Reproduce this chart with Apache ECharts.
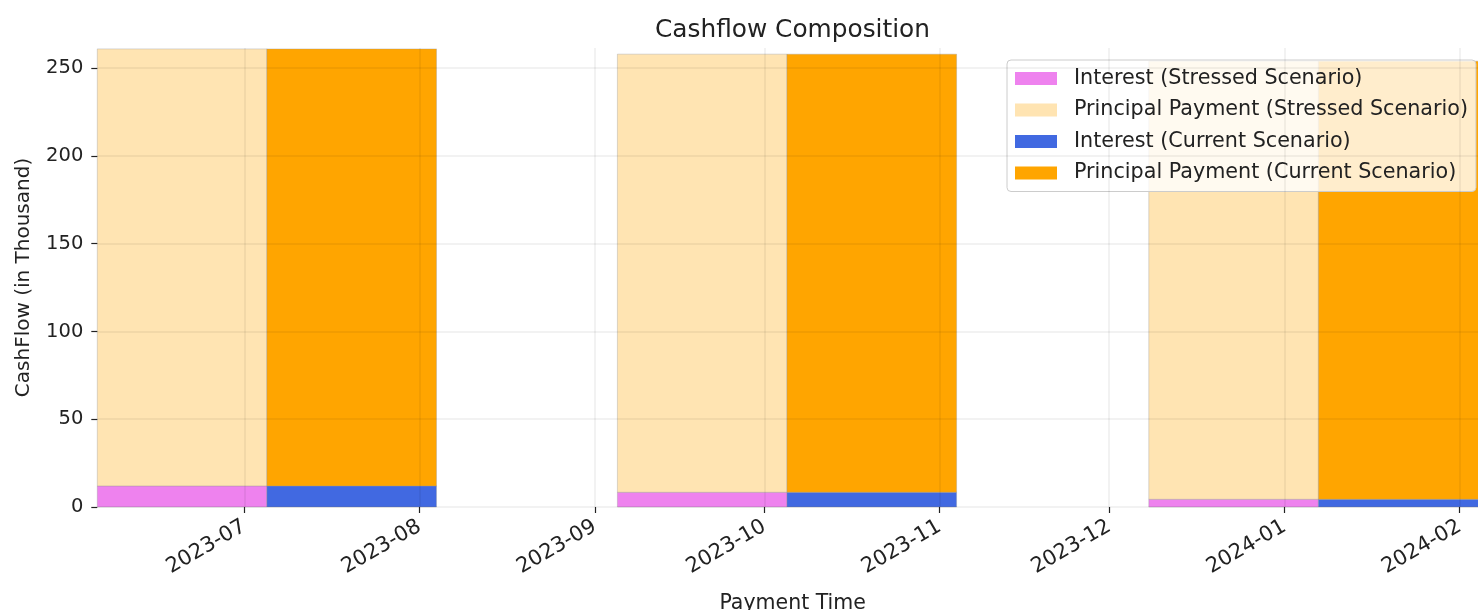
<!DOCTYPE html>
<html>
<head>
<meta charset="utf-8">
<script src="https://cdn.jsdelivr.net/npm/echarts@6/dist/echarts.min.js"></script>
<style>
html,body{margin:0;padding:0;background:#fff;overflow:hidden;}
#chart{width:1478px;height:610px;}
</style>
</head>
<body>
<div id="chart"></div>
<script>
// ---- data ----
const paymentDates = ['2023-07-05', '2023-10-05', '2024-01-07'];
const interestStressed = [12.0, 8.4, 4.4];
const principalStressed = [249.0, 249.6, 249.6];
const interestCurrent = [12.0, 8.4, 4.4];
const principalCurrent = [249.0, 249.6, 249.6];
const monthTicks = ['2023-07-01', '2023-08-01', '2023-09-01', '2023-10-01', '2023-11-01', '2023-12-01', '2024-01-01', '2024-02-01'];
const yTicks = [0, 50, 100, 150, 200, 250];
const seriesNames = ['Interest (Stressed Scenario)', 'Principal Payment (Stressed Scenario)', 'Interest (Current Scenario)', 'Principal Payment (Current Scenario)'];
const seriesColors = ['#ee82ee', '#ffe4b2', '#4169e1', '#ffa500'];
const BAR_DAYS = 30;
const X_MIN = '2023-06-05';
const X_MAX = '2024-02-06';
const Y_MAX = 261.5;

const DAY = 86400000;
function ts(s) { const p = s.split('-').map(Number); return Date.UTC(p[0], p[1] - 1, p[2]); }
function pad(n) { return (n < 10 ? '0' : '') + n; }

function buildItems(offsetSign, base, vals) {
  return paymentDates.map((d, i) => {
    const t = ts(d);
    const start = offsetSign < 0 ? t - BAR_DAYS * DAY : t;
    const end = offsetSign < 0 ? t : t + BAR_DAYS * DAY;
    const b = base ? base[i] : 0;
    return [start, end, b, b + vals[i]];
  });
}

const seriesData = [
  buildItems(-1, null, interestStressed),
  buildItems(-1, interestStressed, principalStressed),
  buildItems(1, null, interestCurrent),
  buildItems(1, interestCurrent, principalCurrent)
];

function renderItem(params, api) {
  const p0 = api.coord([api.value(0), api.value(2)]);
  const p1 = api.coord([api.value(1), api.value(3)]);
  return {
    type: 'rect',
    shape: { x: p0[0], y: p1[1], width: p1[0] - p0[0], height: p0[1] - p1[1] },
    style: { fill: seriesColors[params.seriesIndex], stroke: 'rgba(150,150,150,0.35)', lineWidth: 1 }
  };
}

const FONT = 'DejaVu Sans';
const xTickVals = monthTicks.map(ts);
const chart = echarts.init(document.getElementById('chart'), null, { renderer: 'canvas' });
chart.setOption({
  animation: false,
  backgroundColor: '#fff',
  textStyle: { fontFamily: FONT },
  title: {
    text: 'Cashflow Composition',
    left: 650, top: 13,
    textStyle: { fontFamily: FONT, fontSize: 24.8, fontWeight: 'normal', color: '#222' }
  },
  legend: {
    orient: 'vertical',
    left: 1007, top: 60,
    padding: [8, 8, 8, 8],
    itemWidth: 42, itemHeight: 13, itemGap: 10.5,
    icon: 'rect',
    backgroundColor: 'rgba(255,255,255,0.8)',
    borderColor: '#cccccc', borderWidth: 1, borderRadius: 4,
    data: seriesNames,
    textStyle: { fontFamily: FONT, fontSize: 20.7, color: '#222', padding: [0, 0, 0, 12] }
  },
  grid: { left: 97.3, top: 48, width: 1390.7, height: 459, containLabel: false, outerBoundsMode: 'none' },
  xAxis: {
    type: 'value',
    min: ts(X_MIN), max: ts(X_MAX),
    z: 5,
    name: 'Payment Time', nameLocation: 'middle', nameGap: 86,
    nameTextStyle: { fontFamily: FONT, fontSize: 20.5, color: '#222' },
    axisLine: { show: false },
    axisTick: { show: true, length: 6, lineStyle: { color: '#222', width: 1.2 }, customValues: xTickVals },
    axisLabel: {
      customValues: xTickVals,
      rotate: 30, margin: 18,
      fontFamily: FONT, fontSize: 21, color: '#222',
      formatter: function (v) { const d = new Date(v); return d.getUTCFullYear() + '-' + pad(d.getUTCMonth() + 1); }
    },
    splitLine: { show: true, lineStyle: { color: 'rgba(0,0,0,0.07)', width: 1.5 }, customValues: xTickVals }
  },
  yAxis: {
    type: 'value',
    min: 0, max: Y_MAX, interval: 50,
    z: 5,
    name: 'CashFlow (in Thousand)', nameLocation: 'middle', nameGap: 64,
    nameTextStyle: { fontFamily: FONT, fontSize: 20, color: '#222' },
    axisLine: { show: false },
    axisTick: { show: true, length: 6, lineStyle: { color: '#222', width: 1.2 }, customValues: yTicks },
    axisLabel: { customValues: yTicks, margin: 14, fontFamily: FONT, fontSize: 19.5, color: '#222' },
    splitLine: { show: true, lineStyle: { color: 'rgba(0,0,0,0.07)', width: 1.5 } }
  },
  series: seriesNames.map((name, i) => ({
    name: name,
    type: 'custom',
    renderItem: renderItem,
    itemStyle: { color: seriesColors[i] },
    encode: { x: [0, 1], y: [2, 3] },
    data: seriesData[i],
    z: 2
  }))
});
</script>
</body>
</html>
